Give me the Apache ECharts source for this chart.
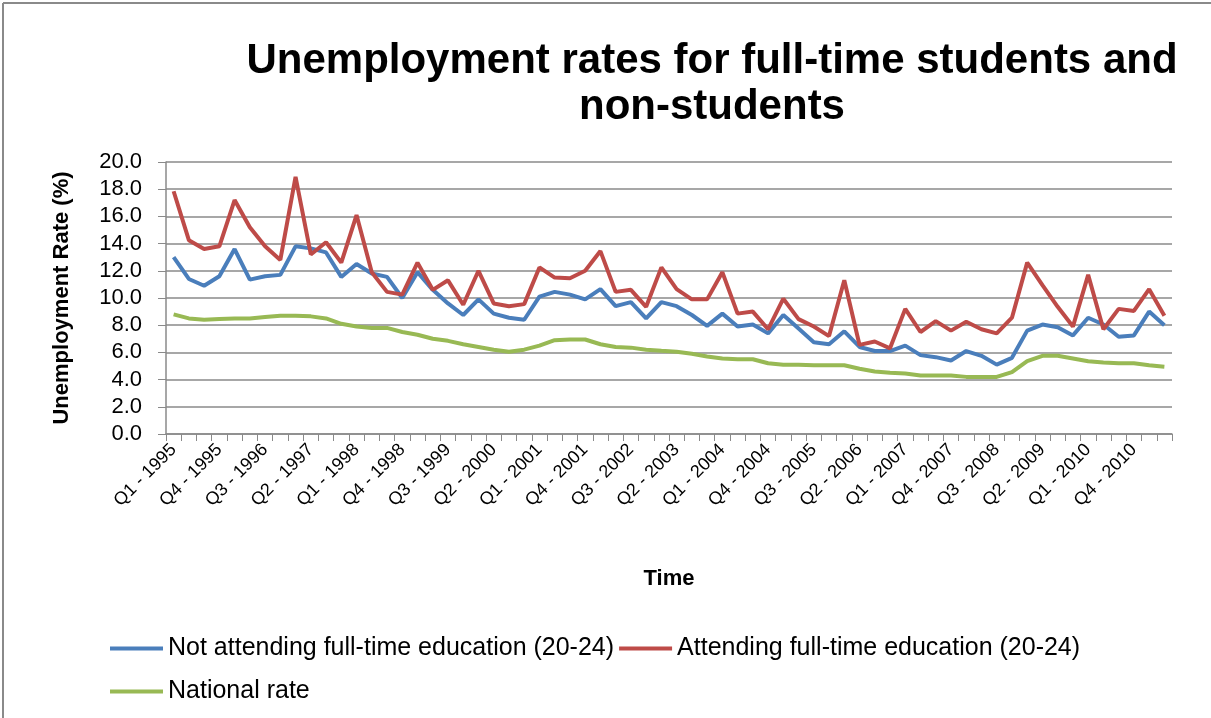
<!DOCTYPE html>
<html>
<head>
<meta charset="utf-8">
<script src="https://cdn.jsdelivr.net/npm/echarts@6/dist/echarts.min.js"></script>
<style>
html,body{margin:0;padding:0;background:#fff;}
#chart{width:1211px;height:718px;}
</style>
</head>
<body>
<div id="chart"></div>
<script>
const quarters = ['Q1','Q2','Q3','Q4'];
const categories = [];
for (let y = 1995; y <= 2011; y++) {
  for (let q = 0; q < 4; q++) {
    if (categories.length < 66) categories.push(quarters[q] + ' - ' + y);
  }
}

const notAttending = [13.0,11.4,10.9,11.6,13.6,11.35,11.6,11.7,13.8,13.65,13.35,11.55,12.5,11.8,11.55,10.0,
  11.9,10.6,9.6,8.75,9.9,8.85,8.55,8.4,10.1,10.45,10.25,9.9,10.65,9.4,9.7,8.5,
  9.7,9.4,8.75,7.95,8.85,7.9,8.05,7.4,8.75,7.75,6.75,6.6,7.55,6.4,6.1,6.1,
  6.5,5.8,5.65,5.4,6.1,5.75,5.1,5.6,7.6,8.05,7.85,7.25,8.55,8.05,7.15,7.25,9.0,8.0];

const attending = [17.85,14.25,13.6,13.8,17.2,15.2,13.8,12.8,18.9,13.2,14.1,12.6,16.1,11.9,10.45,10.25,
  12.6,10.6,11.3,9.5,12.0,9.6,9.4,9.55,12.25,11.5,11.45,12.0,13.45,10.45,10.6,9.35,
  12.25,10.65,9.9,9.9,11.9,8.85,9.0,7.7,9.95,8.45,7.9,7.2,11.3,6.55,6.8,6.3,
  9.2,7.5,8.3,7.6,8.25,7.7,7.4,8.55,12.6,10.95,9.35,7.9,11.7,7.7,9.2,9.05,10.65,8.7];

const nationalRate = [8.8,8.5,8.4,8.45,8.5,8.5,8.6,8.7,8.7,8.65,8.5,8.1,7.9,7.8,7.8,7.5,
  7.3,7.0,6.85,6.6,6.4,6.2,6.05,6.2,6.5,6.9,6.95,6.95,6.6,6.4,6.35,6.2,
  6.12,6.05,5.9,5.7,5.55,5.5,5.5,5.2,5.1,5.1,5.05,5.05,5.05,4.8,4.6,4.5,
  4.45,4.3,4.3,4.3,4.2,4.2,4.2,4.55,5.35,5.75,5.75,5.55,5.35,5.25,5.2,5.2,5.05,4.95];

const yTicks = [0,2,4,6,8,10,12,14,16,18,20];

const seriesNames = ['Not attending full-time education (20-24)','Attending full-time education (20-24)','National rate'];
const colors = ['#4a7ebb','#be4b48','#98b954'];

const FONT = '"Liberation Sans", Arial, sans-serif';

const chart = echarts.init(document.getElementById('chart'), null, {renderer:'canvas'});
chart.setOption({
  backgroundColor:'#ffffff',
  animation:false,
  title:{
    text:'Unemployment rates for full-time students and\nnon-students',
    left:707, top:33, textAlign:'center',
    textStyle:{fontFamily:FONT, fontWeight:'bold', fontSize:42, color:'#000', lineHeight:46}
  },
  graphic:[
    {type:'line', shape:{x1:3,y1:3,x2:1211,y2:3}, style:{stroke:'#8a8a8a', lineWidth:2}},
    {type:'line', shape:{x1:3,y1:3,x2:3,y2:718}, style:{stroke:'#8a8a8a', lineWidth:2}}
  ],
  legend:[
    {data:[seriesNames[0], seriesNames[1]], left:105, top:631, itemGap:5, itemWidth:53, itemHeight:4, icon:'rect',
     textStyle:{fontFamily:FONT, fontSize:25, color:'#000'}},
    {data:[seriesNames[2]], left:105, top:674, itemGap:5, itemWidth:53, itemHeight:4, icon:'rect',
     textStyle:{fontFamily:FONT, fontSize:25, color:'#000'}}
  ],
  grid:{left:166, right:39, top:162, bottom:284, containLabel:false},
  xAxis:{
    type:'category', data:categories, boundaryGap:true,
    name:'Time', nameLocation:'middle', nameGap:134,
    nameTextStyle:{fontFamily:FONT, fontWeight:'bold', fontSize:22, color:'#000'},
    axisLine:{lineStyle:{color:'#8a8a8a', width:1.5}},
    axisTick:{show:true, interval:0, length:7, lineStyle:{color:'#8a8a8a'}},
    axisLabel:{rotate:45, interval:function(i){return i % 3 === 0 && i <= 63;}, fontFamily:FONT, fontSize:18, color:'#000', margin:13},
    splitLine:{show:false}
  },
  yAxis:{
    type:'value', min:0, max:20, interval:2,
    name:'Unemployment Rate (%)', nameLocation:'middle', nameGap:93, nameRotate:90,
    nameTextStyle:{fontFamily:FONT, fontWeight:'bold', fontSize:22, color:'#000'},
    axisLine:{show:true, lineStyle:{color:'#8a8a8a', width:1.5}},
    axisTick:{show:true, length:8, lineStyle:{color:'#8a8a8a'}},
    axisLabel:{formatter:function(v){return v.toFixed(1);}, fontFamily:FONT, fontSize:22, color:'#000', margin:24},
    splitLine:{lineStyle:{color:'#8a8a8a', width:1.5}}
  },
  series:[
    {name:seriesNames[0], type:'line', data:notAttending, symbol:'none', lineStyle:{color:colors[0], width:4}, itemStyle:{color:colors[0]}, z:3},
    {name:seriesNames[1], type:'line', data:attending, symbol:'none', lineStyle:{color:colors[1], width:4}, itemStyle:{color:colors[1]}, z:4},
    {name:seriesNames[2], type:'line', data:nationalRate, symbol:'none', lineStyle:{color:colors[2], width:4}, itemStyle:{color:colors[2]}, z:2}
  ]
});
</script>
</body>
</html>
